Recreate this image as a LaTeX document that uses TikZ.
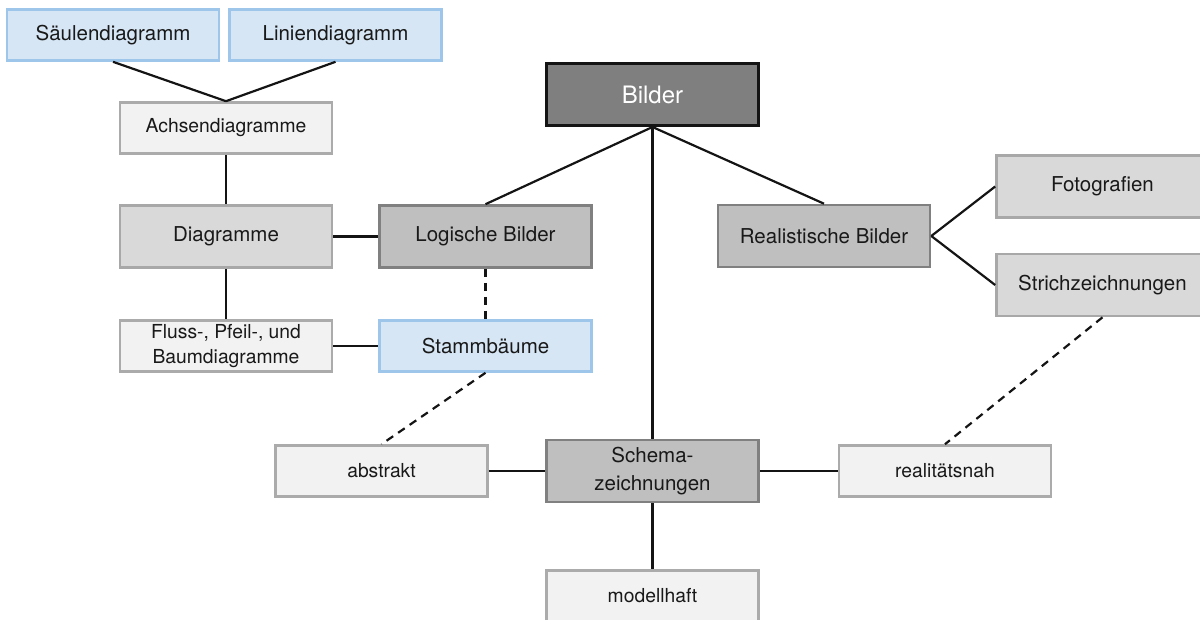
\documentclass[tikz,border=0pt]{standalone}
\usepackage{fontspec}
\setmainfont{TeX Gyre Heros}
\begin{document}
\begin{tikzpicture}[x=1pt,y=-1pt,
  box/.style={rectangle, inner sep=0pt, line width=2.6pt, align=center,
    minimum width=212pt, text=black!90},
  bluebox/.style={box, fill=blueFill, draw=blueLine, minimum height=51pt,
    font=\fontsize{20.5}{25}\selectfont},
  lightbox/.style={box, fill=lightFill, draw=lightLine, minimum height=51pt,
    font=\fontsize{19.3}{25}\selectfont},
  midbox/.style={box, fill=midFill, draw=midLine, minimum height=62pt,
    font=\fontsize{20.5}{25}\selectfont},
  darkbox/.style={box, fill=darkFill, draw=darkLine, minimum height=62pt,
    font=\fontsize{20.5}{28}\selectfont},
  rootbox/.style={box, fill=rootFill, draw=rootLine, line width=3pt,
    minimum height=62pt, text=white, font=\fontsize{24}{28}\selectfont},
  link/.style={line width=2.2pt, black!92},
  dlink/.style={link, dash pattern=on 8pt off 6pt}
]
\definecolor{blueFill}{HTML}{D6E6F5}
\definecolor{blueLine}{HTML}{9DC6EA}
\definecolor{lightFill}{HTML}{F2F2F2}
\definecolor{lightLine}{HTML}{ABABAB}
\definecolor{midFill}{HTML}{D9D9D9}
\definecolor{midLine}{HTML}{A8A8A8}
\definecolor{darkFill}{HTML}{BFBFBF}
\definecolor{darkLine}{HTML}{808080}
\definecolor{rootFill}{HTML}{7F7F7F}
\definecolor{rootLine}{HTML}{141414}

\useasboundingbox (0,0) rectangle (1200,619);

% central node and the two main branches
\node[rootbox] (bilder) at (652.5,94.5) {Bilder};
\node[darkbox] (logisch) at (485.5,236.5) {Logische Bilder};
\node[darkbox] (real) at (824,236) {Realistische Bilder};
\node[darkbox] (schema) at (652.5,471) {Schema-\\zeichnungen};

% logical pictures
\node[midbox] (diag) at (226,236.5) {Diagramme};
\node[lightbox] (achsen) at (226,128) {Achsendiagramme};
\node[bluebox] (saeulen) at (113,35) {Säulendiagramm};
\node[bluebox] (linien) at (335.5,35) {Liniendiagramm};
\node[lightbox] (fluss) at (226,346) {Fluss-, Pfeil-, und\\Baumdiagramme};
\node[bluebox] (stamm) at (485.5,346) {Stammbäume};

% realistic pictures
\node[midbox] (foto) at (1102.5,186.5) {Fotografien};
\node[midbox] (strich) at (1102.5,285) {Strichzeichnungen};

% schematic drawings
\node[lightbox] (abstrakt) at (381.5,471) {abstrakt};
\node[lightbox] (nah) at (945,471) {realitätsnah};
\node[lightbox] (modell) at (652.5,596) {modellhaft};

% connectors
\draw[link] (bilder.south) -- (logisch.north);
\draw[link] (bilder.south) -- (real.north);
\draw[link] (bilder.south) -- (schema.north);
\draw[link] (saeulen.south) -- (achsen.north);
\draw[link] (linien.south) -- (achsen.north);
\draw[link] (achsen.south) -- (diag.north);
\draw[link] (diag.east) -- (logisch.west);
\draw[link] (diag.south) -- (fluss.north);
\draw[link] (fluss.east) -- (stamm.west);
\draw[link] (real.east) -- (foto.west);
\draw[link] (real.east) -- (strich.west);
\draw[link] (abstrakt.east) -- (schema.west);
\draw[link] (schema.east) -- (nah.west);
\draw[link] (schema.south) -- (modell.north);
\draw[dlink] (logisch.south) -- (stamm.north);
\draw[dlink] (stamm.south) -- (abstrakt.north);
\draw[dlink] (strich.south) -- (nah.north);
\end{tikzpicture}
\end{document}
